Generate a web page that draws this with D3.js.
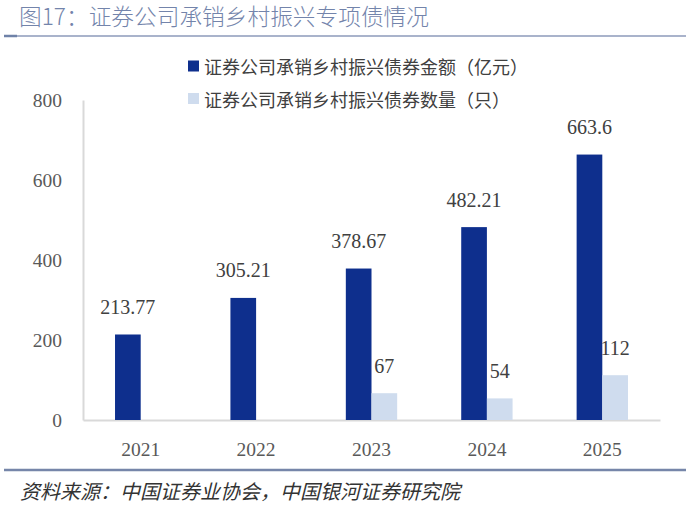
<!DOCTYPE html>
<html><head><meta charset="utf-8">
<script src="https://cdn.jsdelivr.net/npm/d3@7"></script>
<style>body{margin:0;background:#fff}svg{display:block}</style>
</head><body>
<svg id="c" width="690" height="506"></svg>
<script>
const years = ["2021","2022","2023","2024","2025"];
const amounts = [213.77, 305.21, 378.67, 482.21, 663.6];
const counts = [null, null, 67, 54, 112];
const amountLabels = ["213.77","305.21","378.67","482.21","663.6"];
const countLabels = ["","","67","54","112"];
const seriesNames = ["证券公司承销乡村振兴债券金额（亿元）","证券公司承销乡村振兴债券数量（只）"];
const yTicks = [0,200,400,600,800];
const title = "图17：证券公司承销乡村振兴专项债情况";
const source = "资料来源：中国证券业协会，中国银河证券研究院";
const colors = ["#0e2f8d","#cfdcee"];

const svg = d3.select("#c");
const sans = "'Noto Sans CJK SC','Noto Sans',sans-serif";
const serif = "'Liberation Serif','DejaVu Serif',serif";

// title
svg.append("text").attr("x",19).attr("y",25).text(title)
  .attr("font-family",sans).attr("font-size",22.7).attr("font-weight",300).attr("fill","#7384ab");
svg.append("line").attr("x1",4).attr("x2",686).attr("y1",36).attr("y2",36)
  .attr("stroke","#8c9aba").attr("stroke-width",1.5);
svg.append("line").attr("x1",4).attr("x2",17).attr("y1",36).attr("y2",36)
  .attr("stroke","#6f82a8").attr("stroke-width",2.5);

// scales
const x0 = d3.scaleBand().domain(years).range([83,660]).paddingInner(0.555).paddingOuter(0.2775);
const x1 = d3.scaleBand().domain([0,1]).range([0,x0.bandwidth()]);
const y = d3.scaleLinear().domain([0,800]).range([420,100]);

// axes
const yAxis = svg.append("g").attr("transform","translate(83,0)")
  .call(d3.axisLeft(y).tickValues(yTicks).tickSize(0).tickPadding(21));
yAxis.select(".domain").attr("stroke","#d9d9d9").attr("stroke-width",2);
yAxis.selectAll("text").attr("font-family",serif).attr("font-size",19.5).attr("fill","#595959");

const xAxis = svg.append("g").attr("transform","translate(0,420)")
  .call(d3.axisBottom(x0).tickSize(0).tickPadding(22));
xAxis.select(".domain").attr("stroke","#d9d9d9").attr("stroke-width",2);
xAxis.selectAll("text").attr("font-family",serif).attr("font-size",19.5).attr("fill","#595959");

// bars
const data = years.map((yr,i)=>({yr, vals:[amounts[i],counts[i]], labels:[amountLabels[i],countLabels[i]]}));
const g = svg.append("g");
data.forEach(d=>{
  d.vals.forEach((v,k)=>{
    if(v==null) return;
    const bx = x0(d.yr)+x1(k);
    g.append("rect").attr("x",bx).attr("y",y(v)).attr("width",x1.bandwidth())
      .attr("height",y(0)-y(v)).attr("fill",colors[k]);
    g.append("text").attr("x",bx+x1.bandwidth()/2).attr("y",y(v)-20.5)
      .attr("text-anchor","middle").attr("font-family",serif).attr("font-size",20)
      .attr("fill","#404040").text(d.labels[k]);
  });
});

// legend
const leg = svg.append("g");
seriesNames.forEach((n,k)=>{
  const cy = 66 + k*32.5;
  leg.append("rect").attr("x",188).attr("y",cy-5.5).attr("width",11).attr("height",11).attr("fill",colors[k]);
  leg.append("text").attr("x",204).attr("y",cy).attr("dominant-baseline","central")
    .attr("font-family",sans).attr("font-size",18).attr("fill","#404040").text(n);
});

// source
svg.append("line").attr("x1",4).attr("x2",686).attr("y1",470).attr("y2",470)
  .attr("stroke","#7686a9").attr("stroke-width",2.5);
svg.append("text").attr("x",20).attr("y",499).text(source)
  .attr("font-family",sans).attr("font-size",20).attr("font-style","italic").attr("fill","#333");
</script>
</body></html>
